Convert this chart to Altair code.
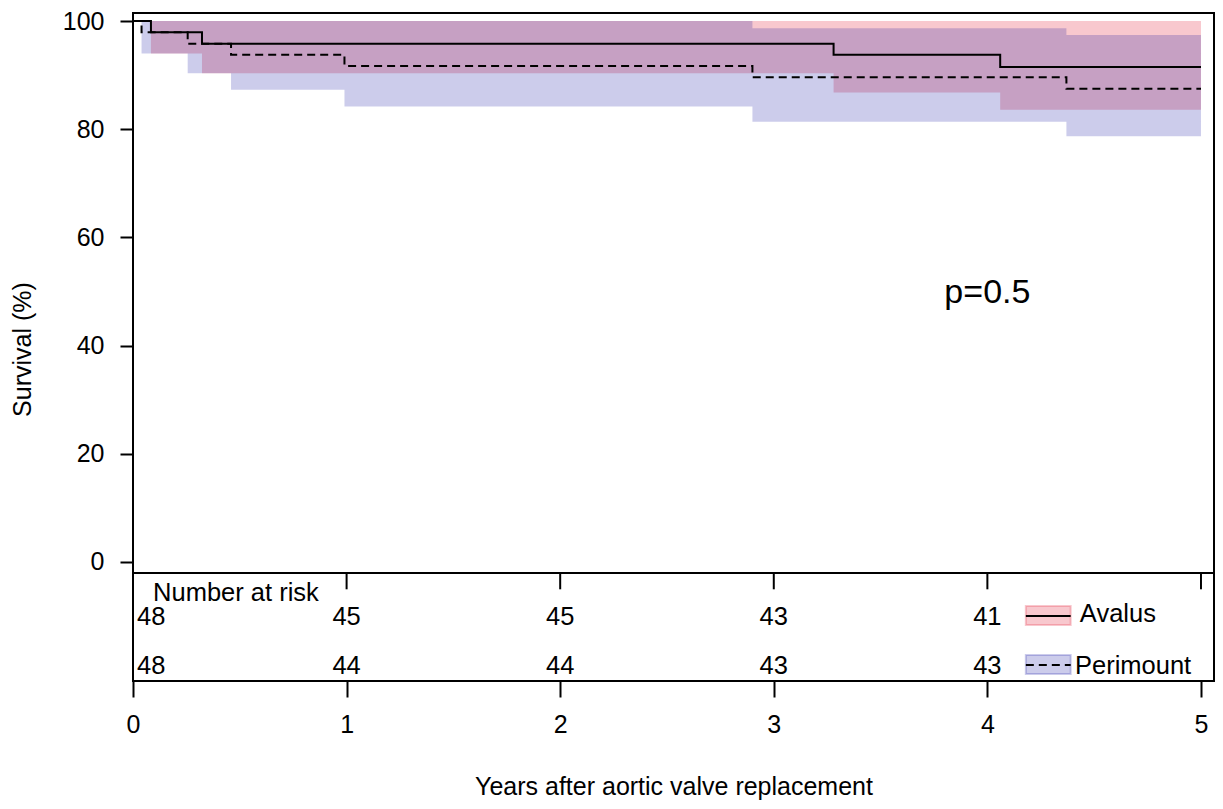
import altair as alt
import pandas as pd

# ---- data ----
groups = ["Avalus", "Perimount"]

avalus_t = [0, 0.084, 0.323, 3.28, 4.06, 5.0]
avalus_s = [100, 97.9, 95.8, 93.75, 91.5, 91.5]
perimount_t = [0, 0.04, 0.256, 0.459, 0.99, 2.9, 4.37, 5.0]
perimount_s = [100, 97.9, 95.8, 93.75, 91.7, 89.6, 87.5, 87.5]

avalus_ci_t = [0.084, 0.323, 3.28, 4.06, 5.0]
avalus_lo = [94.0, 90.35, 86.8, 83.6, 83.6]
avalus_hi = [100, 100, 100, 100, 100]
perimount_ci_t = [0.04, 0.256, 0.459, 0.99, 2.9, 4.37, 5.0]
perimount_lo = [94.0, 90.35, 87.3, 84.2, 81.4, 78.7, 78.7]
perimount_hi = [100, 100, 100, 100, 98.65, 97.4, 97.4]

risk_times = [0, 1, 2, 3, 4]
avalus_risk = [48, 45, 45, 43, 41]
perimount_risk = [48, 44, 44, 43, 43]

x_ticks = [0, 1, 2, 3, 4, 5]
y_ticks = [0, 20, 40, 60, 80, 100]
p_label = "p=0.5"

# ---- layout ----
FONT = "Liberation Sans"
FS = 25
TFS = 25.5
X_MAX = 5.061
Y_MIN, Y_MAX = -22.0, 101.48
BOX_BOTTOM = -2.03       # bottom of survival panel / top of risk table
TICK_END = -5.05
ROW1, ROW2 = -10.17, -19.2
PINK = "#e3233a"
BLUE = "#00009b"
A_PINK = 0.25
A_BLUE = 0.2

xsc = alt.Scale(domain=[0, X_MAX], nice=False, zero=False)
ysc = alt.Scale(domain=[Y_MIN, Y_MAX], nice=False, zero=False)

xaxis = alt.Axis(values=x_ticks, format="d", domain=False, grid=False, tickSize=16,
                 tickWidth=2, tickColor="black", labelFontSize=FS, labelFont=FONT,
                 labelColor="black", labelPadding=15, labelFlush=False, labelOverlap=False,
                 title="Years after aortic valve replacement", titleFont=FONT,
                 titleFontSize=FS, titleFontWeight="normal", titleColor="black",
                 titleY=105, titleBaseline="middle", titleAnchor="middle")
yaxis = alt.Axis(values=y_ticks, format="d", domain=False, grid=False, tickSize=13,
                 tickWidth=2, tickColor="black", labelFontSize=FS, labelFont=FONT,
                 labelColor="black", labelPadding=16, labelOverlap=False,
                 title="Survival (%)", titleFont=FONT, titleFontSize=FS,
                 titleFontWeight="normal", titleColor="black",
                 titleX=-111, titleY=336, titleAlign="center", titleBaseline="middle",
                 titleAngle=270)

def X(field="t"):
    return alt.X(f"{field}:Q", scale=xsc, axis=xaxis)

def Y(field="v"):
    return alt.Y(f"{field}:Q", scale=ysc, axis=yaxis)

ci_a = pd.DataFrame({"t": avalus_ci_t, "v": avalus_lo, "v2": avalus_hi})
ci_p = pd.DataFrame({"t": perimount_ci_t, "v": perimount_lo, "v2": perimount_hi})
km_a = pd.DataFrame({"t": avalus_t, "v": avalus_s})
km_p = pd.DataFrame({"t": perimount_t, "v": perimount_s})

area_a = alt.Chart(ci_a).mark_area(interpolate="step-after", color=PINK, opacity=A_PINK).encode(
    x=X(), y=Y(), y2="v2:Q")
area_p = alt.Chart(ci_p).mark_area(interpolate="step-after", color=BLUE, opacity=A_BLUE).encode(
    x=X(), y=Y(), y2="v2:Q")
line_a = alt.Chart(km_a).mark_line(interpolate="step-after", color="black", strokeWidth=2).encode(
    x=X(), y=Y())
line_p = alt.Chart(km_p).mark_line(interpolate="step-after", color="black", strokeWidth=2,
                                   strokeDash=[8, 5]).encode(x=X(), y=Y())

# risk table frame
sep = alt.Chart(pd.DataFrame({"v": [BOX_BOTTOM]})).mark_rule(color="black", strokeWidth=2).encode(
    y=Y())
tk = alt.Chart(pd.DataFrame({"t": x_ticks[1:], "v": [BOX_BOTTOM] * 5, "v2": [TICK_END] * 5})).mark_rule(
    color="black", strokeWidth=2).encode(x=X(), y=Y(), y2="v2:Q")

risk = pd.DataFrame({
    "t": risk_times + risk_times,
    "v": [ROW1] * len(risk_times) + [ROW2] * len(risk_times),
    "n": avalus_risk + perimount_risk,
})
risk_first = alt.Chart(risk[risk.t == 0]).mark_text(
    font=FONT, fontSize=TFS, align="left", baseline="middle", dx=4, color="black").encode(
    x=X(), y=Y(), text="n:Q")
risk_rest = alt.Chart(risk[risk.t > 0]).mark_text(
    font=FONT, fontSize=TFS, align="center", baseline="middle", color="black").encode(
    x=X(), y=Y(), text="n:Q")
risk_title = alt.Chart(pd.DataFrame({"t": [0.094], "v": [-5.7], "s": ["Number at risk"]})).mark_text(
    font=FONT, fontSize=TFS, align="left", baseline="middle", color="black").encode(
    x=X(), y=Y(), text="s:N")

ptxt = alt.Chart(pd.DataFrame({"t": [4.0], "v": [49.7], "s": [p_label]})).mark_text(
    font=FONT, fontSize=34, align="center", baseline="middle", color="black").encode(
    x=X(), y=Y(), text="s:N")

# legend
leg = pd.DataFrame({
    "g": groups,
    "t": [4.18, 4.18], "t2": [4.39, 4.39],
    "v": [-8.13, -17.19], "v2": [-11.65, -20.7],
    "lv": [-9.98, -19.04],
    "tx": [4.433, 4.41], "ty": [-9.6, -19.2],
})
leg_box_a = alt.Chart(leg[leg.g == "Avalus"]).mark_rect(
    fill=PINK, fillOpacity=A_PINK, stroke=PINK, strokeOpacity=A_PINK, strokeWidth=2).encode(
    x=X(), x2="t2:Q", y=Y(), y2="v2:Q")
leg_box_p = alt.Chart(leg[leg.g == "Perimount"]).mark_rect(
    fill=BLUE, fillOpacity=A_BLUE, stroke=BLUE, strokeOpacity=A_BLUE, strokeWidth=2).encode(
    x=X(), x2="t2:Q", y=Y(), y2="v2:Q")
leg_line_a = alt.Chart(leg[leg.g == "Avalus"]).mark_rule(color="black", strokeWidth=2).encode(
    x=X(), x2="t2:Q", y=Y("lv"))
leg_line_p = alt.Chart(leg[leg.g == "Perimount"]).mark_rule(
    color="black", strokeWidth=2, strokeDash=[8, 5]).encode(x=X(), x2="t2:Q", y=Y("lv"))
leg_text = alt.Chart(leg).mark_text(font=FONT, fontSize=TFS, align="left", baseline="middle",
                                    color="black").encode(x=X("tx"), y=Y("ty"), text="g:N")

chart = alt.layer(
    area_a, area_p, line_a, line_p, sep, tk, risk_first, risk_rest, risk_title, ptxt,
    leg_box_a, leg_box_p, leg_line_a, leg_line_p, leg_text,
).properties(
    width=1081, height=668,
    autosize=alt.AutoSizeParams(type="none"),
    padding={"left": 125, "top": 5, "right": 1, "bottom": 120},
    background="white",
).configure_view(stroke="black", strokeWidth=2)

chart.save("out.html", embed_options={"renderer": "svg", "actions": False})
